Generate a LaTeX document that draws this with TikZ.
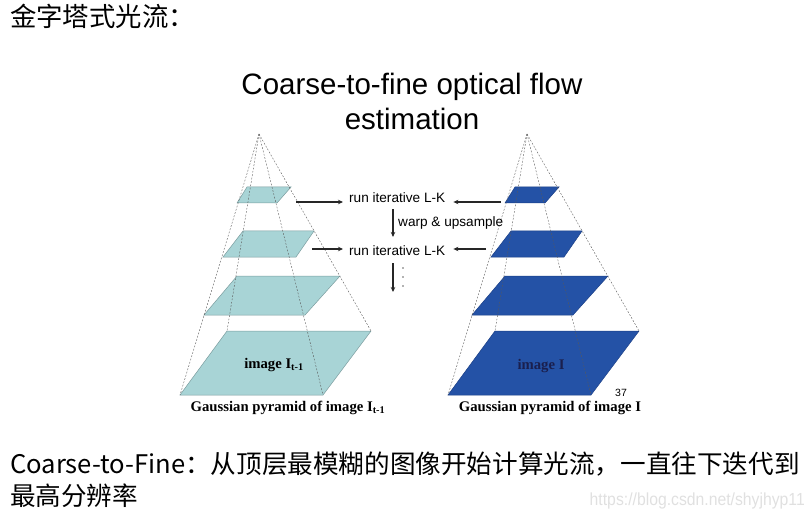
\documentclass[tikz,border=0pt]{standalone}
\usepackage{fontspec}
\usepackage{xcolor}
\usepackage{tikz}
\usetikzlibrary{arrows.meta}
\setmainfont{Liberation Serif}
\newfontfamily\arial{Liberation Sans}
\newfontfamily\cjk{Noto Sans CJK SC}
\definecolor{tealfill}{HTML}{A8D4D6}
\definecolor{tealline}{HTML}{7A9C9E}
\definecolor{bluefill}{HTML}{2452A6}
\definecolor{blueline}{HTML}{1B3F86}
\definecolor{navytext}{HTML}{1A1F4E}
\tikzset{
  edge/.style={gray!70!black, line width=0.4pt, dash pattern=on 1.8pt off 1.6pt},
  lk/.style={-{Stealth[length=5pt, width=4.5pt]}, line width=1.3pt, black!85},
  midtext/.style={font=\arial\fontsize{13.6}{16}\selectfont, inner sep=0pt},
  captext/.style={font=\bfseries\fontsize{14.7}{17}\selectfont, inner sep=0pt},
  cjktext/.style={font=\cjk\fontsize{26.4}{30}\selectfont, inner sep=0pt, anchor=base west}
}
\begin{document}
\begin{tikzpicture}[x=1pt, y=-1pt]
        \useasboundingbox (0,0) rectangle (812,516);

        % 标题
        \node[cjktext] (head) at (10,27) {金字塔式光流：};
        \node[font=\arial\fontsize{29.5}{35}\selectfont, anchor=base] (title1) at (412,95) {Coarse-to-fine optical flow};
        \node[font=\arial\fontsize{29.5}{35}\selectfont, anchor=base] (title2) at (412,130) {estimation};

        % 两个金字塔 (左: I_{t-1}, 右: I)
        \foreach \fc/\lc/\dx in {tealfill/tealline/0, bluefill/blueline/268} {
            \begin{scope}[shift={(\dx,0)}]
                \foreach \ya/\xa/\xb/\yb/\xc/\xd in {187/247/291/203/237/277, 231/243/314/257/223/296,
                                                     276/237/340/315/204/305, 331/227/371/395/180/323}
                    \filldraw[fill=\fc, draw=\lc, line width=0.5pt] (\xa,\ya) -- (\xb,\ya) -- (\xd,\yb) -- (\xc,\yb) -- cycle;
                % 棱线
                \foreach \p in {(227,331), (371,331), (323,395), (180,395)}
                    \draw[edge] (259,134) -- \p;
            \end{scope}
        }

        % 中间的流程
        \node[midtext, anchor=base west] (run1) at (349,203) {run iterative L-K};
        \node[midtext, anchor=base west] (warp) at (398,226) {warp \& upsample};
        \node[midtext, anchor=base west] (run2) at (349,255) {run iterative L-K};

        \coordinate (a1) at (296,202);
        \coordinate (b1) at (501,202);
        \coordinate (a2) at (312,249);
        \coordinate (b2) at (486,249);
        \coordinate (vx) at (393,0);
        \coordinate (down) at (393,292);
        \draw[lk, shorten >=6pt] (a1) -- (a1 -| run1.west);
        \draw[lk, shorten >=8pt] (b1) -- (b1 -| run1.east);
        \draw[lk, shorten >=6pt] (a2) -- (a2 -| run2.west);
        \draw[lk, shorten >=8pt] (b2) -- (b2 -| run2.east);
        \draw[lk, shorten <=6pt, shorten >=8pt] (run1.south -| vx) -- (run2.north -| vx);
        \draw[lk, shorten <=8pt] (run2.south -| vx) -- (down);
        \foreach \y in {268, 277, 286}
            \fill[gray!80!black] (403,\y) circle (0.8pt);

        % 图像标注
        \node[captext, anchor=base] (imgL) at (274,368) {image I\textsubscript{t-1}};
        \node[captext, anchor=base, text=navytext] (imgR) at (541,369) {image I};
        \node[captext, anchor=base] (capL) at (288,411) {Gaussian pyramid of image I\textsubscript{t-1}};
        \node[captext, anchor=base] (capR) at (550,411) {Gaussian pyramid of image I};
        \node[font=\arial\fontsize{10.5}{12}\selectfont, inner sep=0pt] (page) at (621,393) {37};

        % 说明文字
        \node[cjktext, font=\cjk\fontsize{25.6}{30}\selectfont] (note1) at (10,473) {Coarse-to-Fine：从顶层最模糊的图像开始计算光流，一直往下迭代到};
        \node[cjktext, font=\cjk\fontsize{25.6}{30}\selectfont] (note2) at (10,505) {最高分辨率};
        \node[font=\arial\fontsize{17.5}{20}\selectfont, text=black!12, anchor=base east, xscale=0.9, inner sep=0pt] (mark) at (805,505) {https://blog.csdn.net/shyjhyp11};
\end{tikzpicture}
\end{document}
